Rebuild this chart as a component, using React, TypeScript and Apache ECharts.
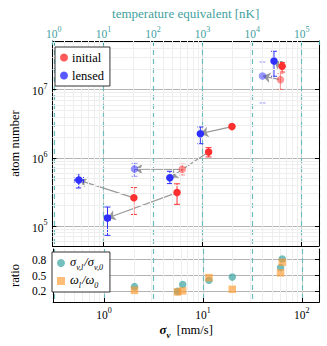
import React, { useEffect, useRef } from "react";
import * as echarts from "echarts";

const FONT = "'Liberation Serif', 'DejaVu Serif', serif";
const TEAL_TEXT = "#3f9f9f";
const TEAL_DASH = "#6dbcbc";
const RED = "#ff2f2f";
const BLUE = "#2f2fff";

// initial → lensed pairs: velocity width [mm/s], atom number, error ranges
const initV = [2.03, 5.53, 6.24, 11.5, 19.8, 61, 63.4];
const initN = [2.59e5, 3.09e5, 6.78e5, 1.22e6, 2.87e6, 1.4e7, 2.2e7];
const initNLo = [1.48e5, 2.08e5, 5.6e5, 1.03e6, 2.7e6, 1.01e7, 1.81e7];
const initNHi = [3.66e5, 4.16e5, 8.1e5, 1.41e6, 3.05e6, 1.72e7, 2.49e7];
const lensV = [0.565, 1.1, 2.06, 4.68, 9.5, 40.2, 52.5];
const lensVLo = [0.505, 1.04, 0, 0, 0, 0, 0];
const lensVHi = [0.63, 1.17, 0, 0, 0, 0, 0];
const lensN = [4.72e5, 1.31e5, 6.85e5, 5.09e5, 2.26e6, 1.58e7, 2.63e7];
const lensNLo = [3.61e5, 7.3e4, 5.36e5, 4.19e5, 1.61e6, 6.37e6, 1.57e7];
const lensNHi = [5.86e5, 1.9e5, 8.3e5, 6.34e5, 2.83e6, 2.54e7, 3.65e7];
const faded = [false, false, true, false, false, true, false];

// ratios plotted at the initial velocity width
const ratioSigma = [0.29, 0.2, 0.33, 0.41, 0.47, 0.65, 0.81];
const ratioOmega = [0.22, 0.19, 0.21, 0.46, 0.24, 0.55, 0.75];

const ratioTicks = [0.2, 0.5, 0.8];

// axis ranges
const vMin = Math.pow(10, -0.514);
const vMax = Math.pow(10, 2.174);
const tMin = 10 * vMin * vMin; // temperature equivalent T = 10 * v^2 (nK)
const tMax = 10 * vMax * vMax;
const nMin = Math.pow(10, 4.707);
const nMax = Math.pow(10, 7.713);

const minorValues = (lo: number, hi: number) => {
  const out: number[] = [];
  for (let e = Math.floor(Math.log10(lo)); e <= Math.ceil(Math.log10(hi)); e++) {
    for (let k = 2; k <= 9; k++) {
      const v = k * Math.pow(10, e);
      if (v > lo && v < hi) out.push(v);
    }
  }
  return out;
};

const supLabel = (v: number) => {
  const l = Math.log10(v);
  const e = Math.round(l);
  if (Math.abs(l - e) > 1e-6) return "";
  return `{b|10}{s|${e}}`;
};

const richFor = (color: string) => ({
  b: { fontSize: 11.5, fontFamily: FONT, color, verticalAlign: "bottom", lineHeight: 15 },
  s: { fontSize: 8, fontFamily: FONT, color, verticalAlign: "top", lineHeight: 15 },
});

const errRender = (color: string) => (params: any, api: any) => {
  const x = api.value(0);
  const lo = api.value(2);
  const hi = api.value(3);
  const xl = api.value(4);
  const xh = api.value(5);
  const op = api.value(6);
  const y = api.value(1);
  const pLo = api.coord([x, lo]);
  const pHi = api.coord([x, hi]);
  const c = 3;
  const style = { stroke: color, lineWidth: 1, opacity: op };
  const children: any[] = [
    { type: "line", shape: { x1: pLo[0], y1: pLo[1], x2: pHi[0], y2: pHi[1] }, style },
    { type: "line", shape: { x1: pLo[0] - c, y1: pLo[1], x2: pLo[0] + c, y2: pLo[1] }, style },
    { type: "line", shape: { x1: pHi[0] - c, y1: pHi[1], x2: pHi[0] + c, y2: pHi[1] }, style },
  ];
  if (xl > 0 && xh > 0) {
    const a = api.coord([xl, y]);
    const b = api.coord([xh, y]);
    children.push(
      { type: "line", shape: { x1: a[0], y1: a[1], x2: b[0], y2: b[1] }, style },
      { type: "line", shape: { x1: a[0], y1: a[1] - c, x2: a[0], y2: a[1] + c }, style },
      { type: "line", shape: { x1: b[0], y1: b[1] - c, x2: b[0], y2: b[1] + c }, style }
    );
  }
  return { type: "group", children };
};

export default function App() {
  const ref = useRef<HTMLDivElement>(null);
  useEffect(() => {
    if (!ref.current) return;
    const chart = echarts.init(ref.current, null, { renderer: "svg" });
    const idx = initV.map((_, i) => i);
    const axisLine = { show: true, lineStyle: { color: "#000", width: 1 } };
    const tick = { show: true, inside: true, length: 4, lineStyle: { color: "#000" } };
    const minorLine = { color: "#eeeeee", width: 1, type: "solid" as const };
    const vMinor = minorValues(vMin, vMax).map((v) => ({ xAxis: v }));
    const nMinor = minorValues(nMin, nMax).map((n) => ({ yAxis: n }));

    const option: any = {
      animation: false,
      backgroundColor: "#fff",
      textStyle: { fontFamily: FONT },
      grid: [
        { left: 47, top: 41, width: 272, height: 205 },
        { left: 47, top: 249, width: 272, height: 53 },
      ],
      xAxis: [
        {
          type: "log", gridIndex: 0, position: "bottom", min: vMin, max: vMax, logBase: 10,
          axisLine, axisTick: tick, axisLabel: { show: false },
          splitLine: { show: true, lineStyle: { color: "#cfcfcf", width: 1 } },
        },
        {
          type: "log", gridIndex: 0, position: "top", min: tMin, max: tMax, logBase: 10,
          name: "temperature equivalent [nK]", nameLocation: "middle", nameGap: 15,
          nameTextStyle: { color: TEAL_TEXT, fontSize: 13, fontFamily: FONT },
          axisLine, axisTick: { ...tick, lineStyle: { color: TEAL_TEXT } },
          axisLabel: { show: true, margin: 1, formatter: supLabel, rich: richFor(TEAL_TEXT), color: TEAL_TEXT },
          splitLine: { show: true, lineStyle: { color: TEAL_DASH, width: 1.2, type: [5, 4] } },
        },
        {
          type: "log", gridIndex: 1, position: "bottom", min: vMin, max: vMax, logBase: 10,
          name: "{bs|σ}{bv|v}{n|  [mm/s]}", nameLocation: "middle", nameGap: 21,
          nameTextStyle: {
            rich: {
              bs: { fontSize: 13, fontWeight: "bold", fontStyle: "italic", fontFamily: FONT, color: "#000", verticalAlign: "top", lineHeight: 16 },
              bv: { fontSize: 9, fontWeight: "bold", fontStyle: "italic", fontFamily: FONT, color: "#000", verticalAlign: "bottom", lineHeight: 16 },
              n: { fontSize: 12.5, fontFamily: FONT, color: "#000", verticalAlign: "top", lineHeight: 16 },
            },
          },
          axisLine, axisTick: tick,
          axisLabel: { show: true, margin: 4, formatter: supLabel, rich: richFor("#000") },
          splitLine: { show: true, lineStyle: { color: "#cfcfcf", width: 1 } },
        },
        {
          type: "log", gridIndex: 1, position: "top", min: tMin, max: tMax, logBase: 10,
          axisLine, axisTick: { show: false }, axisLabel: { show: false },
          splitLine: { show: true, lineStyle: { color: TEAL_DASH, width: 1.2, type: [5, 4] } },
        },
      ],
      yAxis: [
        {
          type: "log", gridIndex: 0, position: "left", min: nMin, max: nMax, logBase: 10,
          name: "atom number", nameLocation: "middle", nameGap: 26, nameRotate: 90,
          nameTextStyle: { color: "#000", fontSize: 12.5, fontFamily: FONT },
          axisLine, axisTick: tick,
          axisLabel: { show: true, margin: 5, formatter: supLabel, rich: richFor("#000") },
          splitLine: { show: true, lineStyle: { color: "#b3b3b3", width: 1 } },
        },
        {
          type: "log", gridIndex: 0, position: "right", min: nMin, max: nMax, logBase: 10,
          axisLine, axisTick: tick, axisLabel: { show: false }, splitLine: { show: false },
        },
        {
          type: "value", gridIndex: 1, position: "left", min: 0, max: 1,
          name: "ratio", nameLocation: "middle", nameGap: 26, nameRotate: 90,
          nameTextStyle: { color: "#000", fontSize: 12.5, fontFamily: FONT },
          axisLine,
          axisTick: { ...tick, customValues: ratioTicks },
          axisLabel: { show: true, margin: 7, fontSize: 11.5, fontFamily: FONT, color: "#000", customValues: ratioTicks, formatter: (v: number) => v.toFixed(1) },
          splitLine: { show: true, lineStyle: { color: "#b3b3b3", width: 1 } },
        },
        {
          type: "value", gridIndex: 1, position: "right", min: 0, max: 1,
          axisLine, axisTick: { ...tick, customValues: ratioTicks }, axisLabel: { show: false }, splitLine: { show: false },
        },
      ],
      legend: [
        {
          z: 20,
          data: [
            { name: "initial", icon: "circle" },
            { name: "lensed", icon: "circle" },
          ],
          orient: "vertical", left: 55, top: 47, itemWidth: 8, itemHeight: 8, itemGap: 5,
          padding: [4, 6, 4, 5], borderColor: "#333", borderWidth: 1, backgroundColor: "#fff",
          textStyle: { fontSize: 12.5, fontFamily: FONT, color: "#000", padding: [0, 0, 0, -1] },
        },
        {
          z: 20,
          data: [
            { name: "sig", icon: "circle" },
            { name: "omg", icon: "rect" },
          ],
          orient: "vertical", left: 52, top: 252, itemWidth: 8, itemHeight: 8, itemGap: 2,
          padding: [3, 6, 3, 5], borderColor: "#333", borderWidth: 1, backgroundColor: "#fff",
          formatter: (name: string) =>
            name === "sig" ? "{i|σ}{sb|v,l}{i|/σ}{sb|v,0}" : "{i|ω}{sb|l}{i|/ω}{sb|0}",
          textStyle: {
            fontSize: 12, fontFamily: FONT, color: "#000",
            rich: {
              i: { fontSize: 12.5, fontStyle: "italic", fontFamily: FONT, color: "#000", verticalAlign: "top", lineHeight: 16 },
              sb: { fontSize: 8, fontStyle: "italic", fontFamily: FONT, color: "#000", verticalAlign: "bottom", lineHeight: 16, padding: [0, 1, 0, 0] },
            },
          },
        },
      ],
      series: [
        {
          type: "line", xAxisIndex: 0, yAxisIndex: 0, data: [], silent: true, z: 0,
          markLine: {
            silent: true, symbol: "none", label: { show: false }, lineStyle: minorLine,
            data: [...vMinor, ...nMinor],
          },
        },
        {
          type: "line", xAxisIndex: 2, yAxisIndex: 2, data: [], silent: true, z: 0,
          markLine: {
            silent: true, symbol: "none", label: { show: false }, lineStyle: minorLine,
            data: vMinor,
          },
        },
        {
          type: "lines", coordinateSystem: "cartesian2d", xAxisIndex: 0, yAxisIndex: 0, z: 3,
          symbol: ["none", "arrow"], symbolSize: 8,
          lineStyle: { color: "#9a9a9a", width: 1.2, opacity: 1, type: "solid" },
          data: idx.map((i) => ({ coords: [[initV[i], initN[i]], [lensV[i], lensN[i]]] })),
        },
        {
          type: "custom", name: "errInit", xAxisIndex: 0, yAxisIndex: 0, z: 4,
          renderItem: errRender(RED),
          data: idx.map((i) => [initV[i], initN[i], initNLo[i], initNHi[i], 0, 0, faded[i] ? 0.5 : 1]),
        },
        {
          type: "custom", name: "errLens", xAxisIndex: 0, yAxisIndex: 0, z: 4,
          renderItem: errRender(BLUE),
          data: idx.map((i) => [lensV[i], lensN[i], lensNLo[i], lensNHi[i], lensVLo[i], lensVHi[i], faded[i] ? 0.5 : 1]),
        },
        {
          type: "scatter", name: "initial", xAxisIndex: 0, yAxisIndex: 0, z: 5,
          symbol: "circle", symbolSize: 7.5, itemStyle: { color: RED },
          data: idx.map((i) => ({ value: [initV[i], initN[i]], itemStyle: { opacity: faded[i] ? 0.5 : 1 } })),
        },
        {
          type: "scatter", name: "lensed", xAxisIndex: 0, yAxisIndex: 0, z: 5,
          symbol: "circle", symbolSize: 7.5, itemStyle: { color: BLUE },
          data: idx.map((i) => ({ value: [lensV[i], lensN[i]], itemStyle: { opacity: faded[i] ? 0.5 : 1 } })),
        },
        {
          type: "scatter", name: "sig", xAxisIndex: 2, yAxisIndex: 2, z: 5,
          symbol: "circle", symbolSize: 7.5, itemStyle: { color: "#3aa3a3", opacity: 0.7 },
          data: idx.map((i) => [initV[i], ratioSigma[i]]),
        },
        {
          type: "scatter", name: "omg", xAxisIndex: 2, yAxisIndex: 2, z: 5,
          symbol: "rect", symbolSize: 7.5, itemStyle: { color: "#ff9a2e", opacity: 0.65 },
          data: idx.map((i) => [initV[i], ratioOmega[i]]),
        },
      ],
    };
    chart.setOption(option);
    return () => chart.dispose();
  }, []);
  return (
    <div
      ref={ref}
      style={{ position: "fixed", left: 0, top: 0, width: 327, height: 346, background: "#fff" }}
    />
  );
}
